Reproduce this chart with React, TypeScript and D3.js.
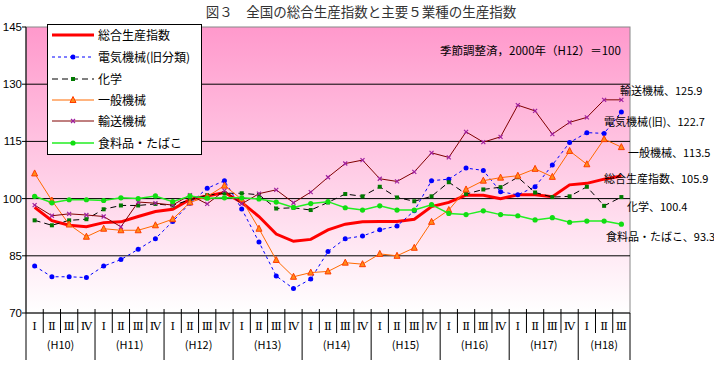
import React, { useEffect, useRef } from "react";
import * as d3 from "d3";

// fiscal years (Heisei) and quarter labels
const years = ["H10", "H11", "H12", "H13", "H14", "H15", "H16", "H17", "H18"];
const quarterNames = ["Ⅰ", "Ⅱ", "Ⅲ", "Ⅳ"];
const yTicks = [70, 85, 100, 115, 130, 145];

// series values, H10 I .. H18 III (35 quarters)
const total = [97.7, 94.2, 93.0, 92.6, 93.7, 93.9, 95.3, 96.6, 97.2, 99.8, 100.7, 101.6, 99.0, 95.3, 90.7, 88.8, 89.3, 91.8, 93.3, 93.9, 94.0, 94.0, 94.6, 97.9, 99.0, 100.9, 100.9, 100.0, 101.0, 101.0, 100.5, 103.6, 104.0, 105.1, 105.9];
const electric = [82.3, 79.5, 79.5, 79.3, 82.3, 84.0, 86.7, 89.5, 94.0, 98.8, 102.7, 104.7, 97.3, 88.6, 79.7, 76.4, 78.9, 86.1, 89.5, 90.2, 91.8, 92.8, 96.8, 104.7, 105.1, 108.0, 107.4, 101.8, 101.0, 103.1, 108.8, 114.7, 117.3, 117.1, 122.7];
const chemical = [94.3, 93.0, 94.3, 94.6, 97.2, 98.2, 98.2, 98.6, 98.2, 99.7, 100.9, 101.4, 101.4, 101.0, 97.4, 97.6, 97.0, 99.0, 101.2, 100.6, 103.1, 100.3, 99.3, 100.6, 104.3, 101.2, 102.4, 103.0, 105.6, 101.6, 100.4, 100.6, 103.1, 98.1, 100.4];
const general = [106.6, 99.5, 93.2, 90.0, 92.1, 91.7, 91.7, 93.0, 94.6, 99.0, 100.5, 103.4, 99.8, 92.1, 83.9, 79.5, 80.6, 80.9, 83.2, 82.8, 85.5, 85.0, 87.1, 93.9, 97.0, 102.4, 104.7, 105.5, 106.0, 107.8, 105.7, 112.5, 109.0, 115.6, 113.5];
const transport = [98.3, 95.5, 96.0, 95.7, 95.3, 92.6, 99.1, 98.8, 98.3, 100.9, 98.6, 102.1, 98.6, 101.3, 102.3, 98.9, 101.7, 105.6, 109.2, 110.1, 105.2, 104.5, 107.0, 112.0, 110.8, 117.5, 114.8, 116.2, 124.5, 123.0, 116.9, 120.0, 121.3, 125.9, 125.9];
const food = [100.6, 98.9, 99.7, 99.7, 99.5, 100.2, 100.0, 100.7, 99.2, 100.7, 100.1, 100.2, 100.2, 99.9, 99.1, 97.7, 98.7, 99.2, 97.6, 97.0, 98.1, 97.0, 97.0, 98.4, 96.1, 95.8, 96.8, 95.8, 95.5, 94.4, 95.0, 93.8, 94.1, 94.1, 93.3];

const seriesNames = ["総合生産指数", "電気機械(旧分類)", "化学", "一般機械", "輸送機械", "食料品・たばこ"];
const endLabels = ["総合生産指数、105.9", "電気機械(旧)、122.7", "化学、100.4", "一般機械、113.5", "輸送機械、125.9", "食料品・たばこ、93.3"];

const JP = "'Noto Sans CJK JP', 'Noto Sans', sans-serif";

export default function App() {
  const ref = useRef<SVGSVGElement>(null);

  useEffect(() => {
    const svg = d3.select(ref.current);
    svg.selectAll("*").remove();

    const left = 26, right = 630, top = 27, bottom = 313;

    const keys: string[] = [];
    years.forEach((y) => quarterNames.forEach((q) => keys.push(y + "-" + q)));
    keys.length = total.length;

    const x = d3.scaleBand().domain(keys).range([left, right]).padding(0);
    const y = d3.scaleLinear().domain([70, 145]).range([bottom, top]);
    const cx = (i: number) => (x(keys[i]) as number) + x.bandwidth() / 2;

    const defs = svg.append("defs");
    const grad = defs.append("linearGradient").attr("id", "bg").attr("x1", 0).attr("y1", 0).attr("x2", 0).attr("y2", 1);
    grad.append("stop").attr("offset", "0%").attr("stop-color", "#ff99cc");
    grad.append("stop").attr("offset", "100%").attr("stop-color", "#ffffff");

    // title
    svg.append("text")
      .attr("x", 361).attr("y", 17)
      .attr("text-anchor", "middle")
      .attr("font-family", JP).attr("font-size", 13.5)
      .attr("fill", "#333")
      .text("図３　全国の総合生産指数と主要５業種の生産指数");

    // plot background
    svg.append("rect")
      .attr("x", left).attr("y", top)
      .attr("width", right - left).attr("height", bottom - top)
      .attr("fill", "url(#bg)")
      .attr("stroke", "#888");

    // gridlines
    svg.selectAll(".grid")
      .data(yTicks.filter((t) => t > 70 && t < 145))
      .enter().append("line")
      .attr("x1", left).attr("x2", right)
      .attr("y1", (d) => y(d)).attr("y2", (d) => y(d))
      .attr("stroke", "#000");

    // y axis
    svg.append("line").attr("x1", left).attr("x2", left).attr("y1", top).attr("y2", 360).attr("stroke", "#000");
    svg.append("line").attr("x1", right).attr("x2", right).attr("y1", bottom).attr("y2", 360).attr("stroke", "#000");
    svg.append("line").attr("x1", left).attr("x2", right).attr("y1", bottom).attr("y2", bottom).attr("stroke", "#000");
    yTicks.forEach((t) => {
      svg.append("line").attr("x1", left - 4).attr("x2", left).attr("y1", y(t)).attr("y2", y(t)).attr("stroke", "#000");
      svg.append("text")
        .attr("x", left - 4).attr("y", y(t) + 4)
        .attr("text-anchor", "end")
        .attr("font-family", "'Liberation Sans', sans-serif").attr("font-size", 11.5)
        .text(t);
    });

    // x axis: quarter separators and labels
    keys.forEach((k, i) => {
      const x0 = x(k) as number;
      const q = i % 4;
      if (i > 0) {
        svg.append("line")
          .attr("x1", x0).attr("x2", x0)
          .attr("y1", bottom - 4).attr("y2", q === 0 ? 360 : 333)
          .attr("stroke", "#000");
      }
      svg.append("text")
        .attr("x", x0 + x.bandwidth() / 2).attr("y", 329.5)
        .attr("text-anchor", "middle")
        .attr("font-family", "'DejaVu Serif', serif").attr("font-size", 11.5)
        .text(quarterNames[q]);
    });
    years.forEach((yr, j) => {
      const first = j * 4;
      const last = Math.min(first + 3, keys.length - 1);
      const mid = ((x(keys[first]) as number) + (x(keys[last]) as number) + x.bandwidth()) / 2;
      svg.append("text")
        .attr("x", mid).attr("y", 349)
        .attr("text-anchor", "middle")
        .attr("font-family", JP).attr("font-size", 11)
        .text("(" + yr + ")");
    });

    // note
    svg.append("text")
      .attr("x", 440).attr("y", 55)
      .attr("font-family", JP).attr("font-size", 11.5)
      .text("季節調整済，2000年（H12）＝100");

    const styles = [
      { color: "#ff0000", width: 3, dash: null, marker: "none" },
      { color: "#0000ff", width: 1, dash: "3,3", marker: "circle" },
      { color: "#000000", width: 1, dash: "6,4", marker: "bar" },
      { color: "#ff6a00", width: 1, dash: null, marker: "triangle" },
      { color: "#800000", width: 1, dash: null, marker: "cross" },
      { color: "#22ee22", width: 1.5, dash: null, marker: "dot" },
    ];
    const allSeries = [total, electric, chemical, general, transport, food];

    const drawMarker = (g: any, type: string, px: number, py: number) => {
      if (type === "circle") {
        g.append("circle").attr("cx", px).attr("cy", py).attr("r", 2.5).attr("fill", "#0000ff");
      } else if (type === "bar") {
        g.append("rect").attr("x", px - 2).attr("y", py - 2).attr("width", 4).attr("height", 4).attr("fill", "#007a00");
      } else if (type === "triangle") {
        g.append("path")
          .attr("d", `M${px},${py - 3.5}L${px + 3},${py + 2.5}L${px - 3},${py + 2.5}Z`)
          .attr("fill", "#ff8c1a").attr("stroke", "#ff3c00").attr("stroke-width", 1);
      } else if (type === "cross") {
        g.append("path")
          .attr("d", `M${px - 2},${py - 2}L${px + 2},${py + 2}M${px + 2},${py - 2}L${px - 2},${py + 2}`)
          .attr("stroke", "#a020a0").attr("stroke-width", 1.2);
      } else if (type === "dot") {
        g.append("circle").attr("cx", px).attr("cy", py).attr("r", 2.6).attr("fill", "#11dd11");
      }
    };

    const line = d3.line<number>().x((d, i) => cx(i)).y((d) => y(d));

    allSeries.forEach((vals, s) => {
      const st = styles[s];
      const g = svg.append("g");
      g.append("path")
        .attr("d", line(vals))
        .attr("fill", "none")
        .attr("stroke", st.color)
        .attr("stroke-width", st.width)
        .attr("stroke-dasharray", st.dash);
      vals.forEach((v, i) => drawMarker(g, st.marker, cx(i), y(v)));
    });

    // end labels
    const labelPos = [
      { x: 604, dy: 3 },
      { x: 604, dy: 10 },
      { x: 627, dy: 10 },
      { x: 628, dy: 6 },
      { x: 620, dy: -9 },
      { x: 606, dy: 13 },
    ];
    allSeries.forEach((vals, s) => {
      svg.append("text")
        .attr("x", labelPos[s].x)
        .attr("y", y(vals[vals.length - 1]) + labelPos[s].dy + 4)
        .attr("font-family", JP).attr("font-size", 11)
        .text(endLabels[s]);
    });

    // legend
    const lg = svg.append("g");
    lg.append("rect").attr("x", 47.5).attr("y", 24.5).attr("width", 154).attr("height", 130)
      .attr("fill", "#fff").attr("stroke", "#000");
    const rowY = [35, 57, 79, 100, 121, 143];
    seriesNames.forEach((name, s) => {
      const st = styles[s];
      lg.append("line")
        .attr("x1", 52).attr("x2", 94)
        .attr("y1", rowY[s]).attr("y2", rowY[s])
        .attr("stroke", st.color)
        .attr("stroke-width", st.width)
        .attr("stroke-dasharray", st.dash);
      drawMarker(lg, st.marker, 73, rowY[s]);
      lg.append("text")
        .attr("x", 98).attr("y", rowY[s] + 4.5)
        .attr("font-family", JP).attr("font-size", 12)
        .text(name);
    });
  }, []);

  return (
    <svg ref={ref} width={714} height={369} style={{ position: "absolute", left: 0, top: 0, background: "#fff" }} />
  );
}
